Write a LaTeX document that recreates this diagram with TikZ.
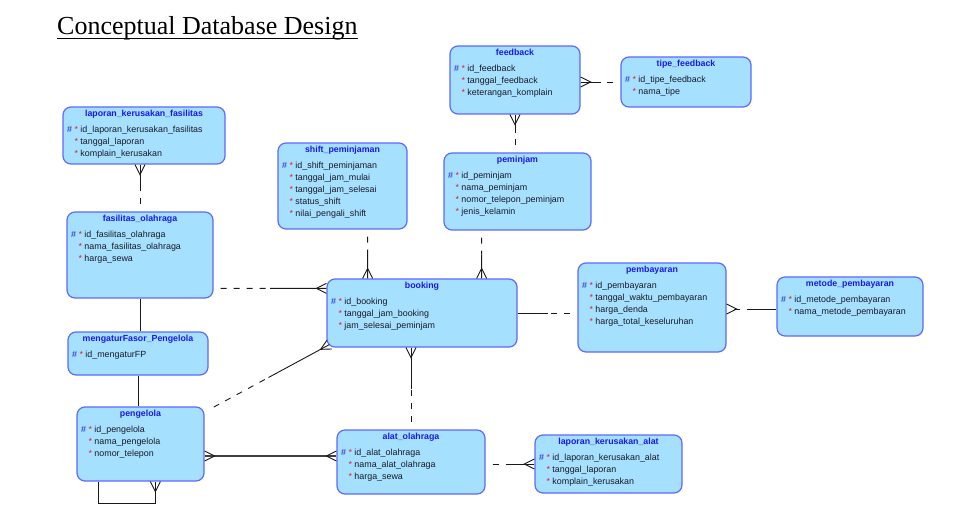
\documentclass[tikz,border=0pt]{standalone}
\usepackage{fontspec}
\setmainfont{Liberation Sans}
\newfontfamily\titlefont{Liberation Serif}
\usetikzlibrary{calc}
\definecolor{entfill}{RGB}{166,224,255}
\definecolor{entdraw}{RGB}{95,105,255}
\definecolor{titlec}{RGB}{25,25,235}
\definecolor{hashc}{RGB}{30,30,200}
\definecolor{starc}{RGB}{230,30,30}
\definecolor{attrc}{RGB}{25,25,40}
\definecolor{linec}{RGB}{25,25,25}
\newcommand\attrpk{{\color{hashc}\#} {\color{starc}*} }
\newcommand\attrnk{\hphantom{\#} {\color{starc}*} }
% #1 name, #2 x1, #3 y1, #4 x2, #5 y2, #6 title, #7 attribute lines
\newcommand\mkentity[7]{%
  \node[ent, minimum width={(#4-#2)*1pt}, minimum height={(#5-#3)*1pt}] (#1) at ({(#2+#4)/2},{(#3+#5)/2}) {};
  \node[etitle] (#1t) at ($(#1.north)+(0,10.5)$) {#6};
  \node[eattr] (#1a) at ($(#1.north west)+(4.5,17)$) {\strut#7};
}
\newcommand\mkcrow[2]{\draw[conn] ($(#1)!5pt!90:(#2)$) -- ($(#1)!10pt!(#2)$) -- ($(#1)!5pt!-90:(#2)$);}
% #1 solid-side end, #2 dashed-side end
\newcommand\mkrel[2]{\draw[conn] (#1) -- ($(#1)!0.5!(#2)$); \draw[conn,dashpart] (#2) -- ($(#1)!0.5!(#2)$);}
\begin{document}
\begin{tikzpicture}[x=1pt,y=-1pt,
  ent/.style={draw=entdraw, fill=entfill, rounded corners=8pt, line width=1.2pt, inner sep=0pt},
  etitle/.style={anchor=base, inner sep=0pt, text=titlec, font=\fontsize{8.8}{10}\selectfont\bfseries},
  eattr/.style={anchor=north west, inner sep=0pt, align=left, text=attrc, font=\fontsize{8.9}{12.1}\selectfont},
  conn/.style={draw=linec, line width=0.9pt},
  dashpart/.style={dash pattern=on 6pt off 7pt, dash phase=6pt}]
\fill[white] (0,0) rectangle (963,518);
\useasboundingbox (0,0) rectangle (963,518);
% title
\node[anchor=base west, inner sep=0pt, font=\titlefont\fontsize{26}{30}\selectfont] (title) at (57,34.5) {Conceptual Database Design};
\draw[line width=1.2pt] ($(title.base west)+(0,4)$) -- ($(title.base east)+(0,4)$);
% entities
\mkentity{lkf}{63}{107}{225}{164}{laporan\_kerusakan\_fasilitas}{\attrpk id\_laporan\_kerusakan\_fasilitas\\\attrnk tanggal\_laporan\\\attrnk komplain\_kerusakan}
\mkentity{fas}{67}{212}{213}{298}{fasilitas\_olahraga}{\attrpk id\_fasilitas\_olahraga\\\attrnk nama\_fasilitas\_olahraga\\\attrnk harga\_sewa}
\mkentity{meng}{68}{332}{208}{375}{mengaturFasor\_Pengelola}{\attrpk id\_mengaturFP}
\mkentity{peng}{77}{407}{204}{481}{pengelola}{\attrpk id\_pengelola\\\attrnk nama\_pengelola\\\attrnk nomor\_telepon}
\mkentity{shift}{278}{143}{407}{229}{shift\_peminjaman}{\attrpk id\_shift\_peminjaman\\\attrnk tanggal\_jam\_mulai\\\attrnk tanggal\_jam\_selesai\\\attrnk status\_shift\\\attrnk nilai\_pengali\_shift}
\mkentity{fb}{450}{46}{580}{114}{feedback}{\attrpk id\_feedback\\\attrnk tanggal\_feedback\\\attrnk keterangan\_komplain}
\mkentity{tfb}{621}{57}{751}{107}{tipe\_feedback}{\attrpk id\_tipe\_feedback\\\attrnk nama\_tipe}
\mkentity{pem}{444}{153}{591}{230}{peminjam}{\attrpk id\_peminjam\\\attrnk nama\_peminjam\\\attrnk nomor\_telepon\_peminjam\\\attrnk jenis\_kelamin}
\mkentity{book}{327}{279}{517}{347}{booking}{\attrpk id\_booking\\\attrnk tanggal\_jam\_booking\\\attrnk jam\_selesai\_peminjam}
\mkentity{bayar}{578}{263}{726}{352}{pembayaran}{\attrpk id\_pembayaran\\\attrnk tanggal\_waktu\_pembayaran\\\attrnk harga\_denda\\\attrnk harga\_total\_keseluruhan}
\mkentity{metode}{777}{277}{923}{336}{metode\_pembayaran}{\attrpk id\_metode\_pembayaran\\\attrnk nama\_metode\_pembayaran}
\mkentity{alat}{337}{430}{485}{494}{alat\_olahraga}{\attrpk id\_alat\_olahraga\\\attrnk nama\_alat\_olahraga\\\attrnk harga\_sewa}
\mkentity{lka}{535}{435}{682}{493}{laporan\_kerusakan\_alat}{\attrpk id\_laporan\_kerusakan\_alat\\\attrnk tanggal\_laporan\\\attrnk komplain\_kerusakan}
% connector end points
\coordinate (e1a) at (fas.north |- lkf.south);
\coordinate (e1b) at (fas.north);
\coordinate (e2b) at ($(book.north west)+(0,10)$);
\coordinate (e2a) at (e2b -| fas.east);
\coordinate (e3a) at ($(shift.south east)+(-40,0)$);
\coordinate (e3b) at (e3a |- book.north);
\coordinate (e4a) at ($(book.north east)+(-36,0)$);
\coordinate (e4b) at (e4a |- pem.south);
\coordinate (e5a) at (fb.south);
\coordinate (e5b) at (fb.south |- pem.north);
\coordinate (e6a) at (tfb.west -| fb.east);
\coordinate (e6b) at (tfb.west);
\coordinate (e7a) at (book.east);
\coordinate (e7b) at (book.east -| bayar.west);
\coordinate (e8b) at ($(metode.west)+(0,2.5)$);
\coordinate (e8a) at (e8b -| bayar.east);
\coordinate (e9a) at (alat.north |- book.south);
\coordinate (e9b) at (alat.north);
\coordinate (e10b) at (lka.west);
\coordinate (e10a) at (lka.west -| alat.east);
\coordinate (e11b) at ($(alat.west)+(0,-6)$);
\coordinate (e11a) at (e11b -| peng.east);
\coordinate (e12a) at ($(book.south west)+(3,-3)$);
\coordinate (e12b) at ($(peng.north east)+(3,4)$);
\coordinate (e13a) at (fas.south);
\coordinate (e13b) at (fas.south |- meng.north);
\coordinate (e14a) at (meng.south);
\coordinate (e14b) at (meng.south |- peng.north);
\coordinate (w1) at ($(peng.south west)+(22,0)$);
\coordinate (w2) at ($(peng.south west)+(79,0)$);
\coordinate (w2d) at ($(w2)+(0,22)$);
% relationships (solid side first, dashed side second)
\mkrel{e1a}{e1b}  \mkcrow{e1a}{e1b}
\mkrel{e2b}{e2a}  \mkcrow{e2b}{e2a}
\mkrel{e3b}{e3a}  \mkcrow{e3b}{e3a}
\mkrel{e4a}{e4b}  \mkcrow{e4a}{e4b}
\mkrel{e5a}{e5b}  \mkcrow{e5a}{e5b}
\mkrel{e6a}{e6b}  \mkcrow{e6a}{e6b}
\mkrel{e7a}{e7b}
\mkrel{e8b}{e8a}  \mkcrow{e8a}{e8b}
\mkrel{e9a}{e9b}  \mkcrow{e9a}{e9b}
\mkrel{e10b}{e10a} \mkcrow{e10b}{e10a}
\draw[conn, line width=1.4pt, draw=black!75] (e11a) -- (e11b);
\mkcrow{e11a}{e11b} \mkcrow{e11b}{e11a}
\mkrel{e12a}{e12b} \mkcrow{e12a}{e12b}
\draw[conn] (e13a) -- (e13b);
\draw[conn] (e14a) -- (e14b);
\draw[conn] (w1) -- ++(0,22) -| (w2);
\mkcrow{w2}{w2d}
\end{tikzpicture}
\end{document}
